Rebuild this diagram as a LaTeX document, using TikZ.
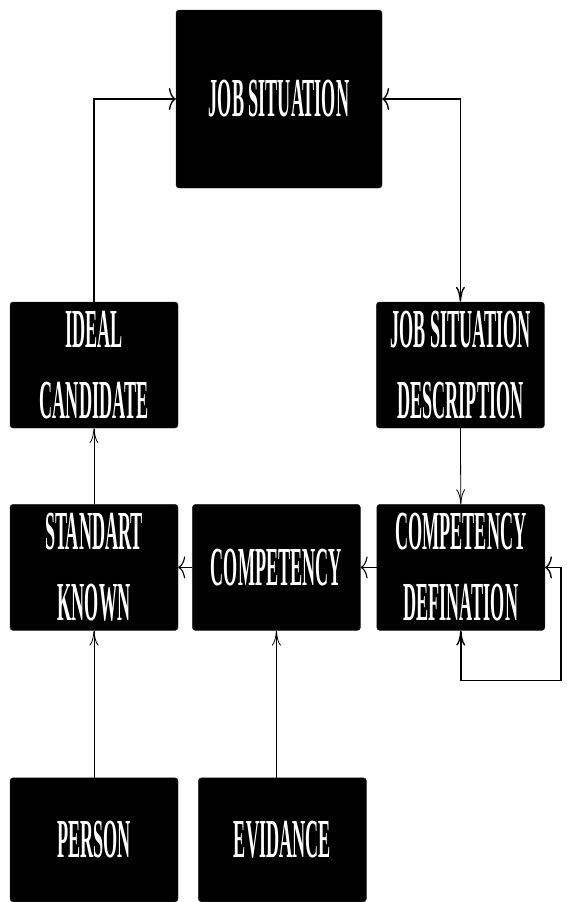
\documentclass[tikz,border=0pt]{standalone}
\usepackage{fontspec}
\newfontfamily\boxfont[FakeStretch=0.33]{Liberation Serif Bold}
\usetikzlibrary{positioning,arrows.meta}

\tikzset{
    block/.style={fill=black, draw=black!85, rounded corners=3pt, text=white, align=center, inner sep=0pt,
        minimum width=168pt, minimum height=126pt, font=\boxfont\fontsize{55}{71}\selectfont},
    hbarb/.tip={To[length=7pt,width=22pt]},
    vbarb/.tip={To[length=15pt,width=9pt]},
    hlink/.style={line width=1.1pt},
    vlink/.style={line width=0.8pt},
    elbow/.style={line width=1.4pt},
}

\begin{document}
\begin{tikzpicture}

    \useasboundingbox (0,0) rectangle (566pt,-902pt); % page size

    \node [block, minimum width=206pt, minimum height=178pt] (job) at (279pt,-99pt) {JOB SITUATION}; % top box
    \node [block] (ideal) at (94pt,-365pt) {IDEAL\\CANDIDATE}; % left of second row
    \node [block, right=198pt of ideal] (jsd) {JOB SITUATION\\DESCRIPTION}; % right of second row
    \node [block, below=76pt of ideal] (std) {STANDART\\KNOWN}; % third row
    \node [block, right=14pt of std] (comp) {COMPETENCY};
    \node [block, right=16pt of comp] (cdef) {COMPETENCY\\DEFINATION};
    \node [block, minimum height=124pt, below=147pt of std] (person) {PERSON}; % bottom row
    \node [block, minimum height=124pt, right=20pt of person] (evid) {EVIDANCE};

    \draw [elbow, arrows={-hbarb}] (ideal.north) |- (job.west); % back up to the job
    \draw [elbow, arrows={hbarb-vbarb}] (job.east) -| (jsd.north); % job <-> description
    \draw [vlink, arrows={-vbarb}] (jsd.south) -- (cdef.north);
    \draw [hlink, arrows={-hbarb}] (cdef.west) -- (comp.east);
    \draw [hlink, arrows={-hbarb}] (comp.west) -- (std.east);
    \draw [vlink, arrows={-vbarb}] (std.north) -- (ideal.south);
    \draw [vlink, arrows={-vbarb}] (person.north) -- (std.south);
    \draw [vlink, arrows={-vbarb}] (evid.north -| comp.south) -- (comp.south);
    \draw [elbow, arrows={vbarb-hbarb}] (cdef.south) -- ++(0,-50pt) -| ([xshift=16pt]cdef.east) -- (cdef.east); % loop on the definition

\end{tikzpicture}
\end{document}
